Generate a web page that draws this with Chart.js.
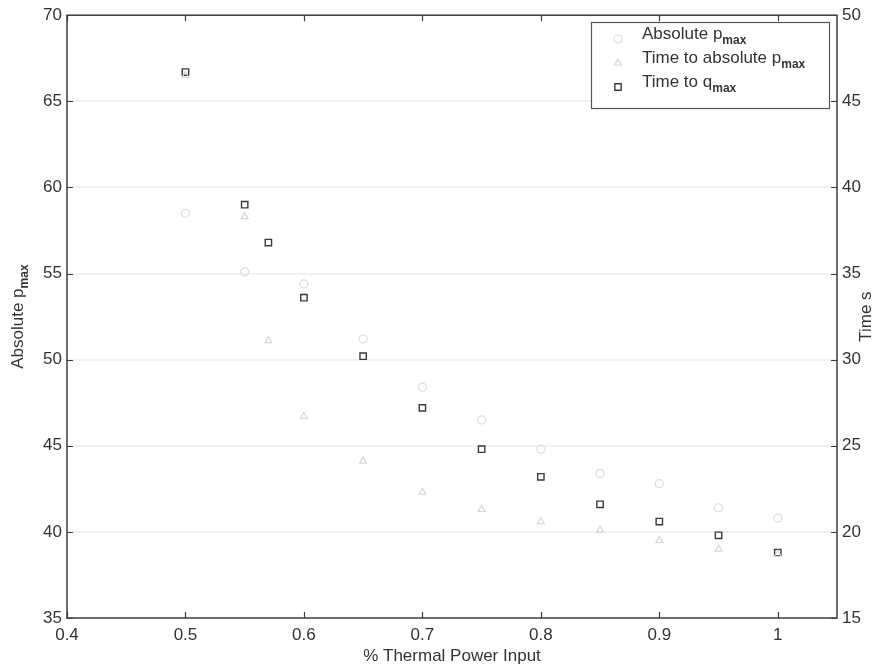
<!DOCTYPE html>
<html>
<head>
<meta charset="utf-8">
<script src="https://cdn.jsdelivr.net/npm/chart.js@4.4.1/dist/chart.umd.min.js"></script>
<style>
html,body{margin:0;padding:0;background:#fff;}
#wrap{width:881px;height:672px;position:relative;}
</style>
</head>
<body>
<div id="wrap"><canvas id="powerChart" width="881" height="672"></canvas></div>
<script>

// thermal power fractions and measured values
const powerInput = [0.5, 0.55, 0.6, 0.65, 0.7, 0.75, 0.8, 0.85, 0.9, 0.95, 1.0];
const absPmax = [58.5, 55.1, 54.4, 51.2, 48.4, 46.5, 44.8, 43.4, 42.8, 41.4, 40.8];

const timeInput = [0.5, 0.55, 0.57, 0.6, 0.65, 0.7, 0.75, 0.8, 0.85, 0.9, 0.95, 1.0];
const timeToPmax = [46.5, 38.3, 31.1, 26.7, 24.1, 22.3, 21.3, 20.6, 20.1, 19.5, 19.0, 18.7];
const timeToQmax = [46.7, 39.0, 36.8, 33.6, 30.2, 27.2, 24.8, 23.2, 21.6, 20.6, 19.8, 18.8];

const xTicks = [0.4, 0.5, 0.6, 0.7, 0.8, 0.9, 1.0];
const leftTicks = [35, 40, 45, 50, 55, 60, 65, 70];
const rightTicks = [15, 20, 25, 30, 35, 40, 45, 50];

const FONT = "'Liberation Sans', Arial, sans-serif";
const INK = "#333";

function toPoints(xs, ys){
return xs.map((x, i) => ({x: x, y: ys[i]}));
}

// text followed by a lowered, smaller subscript
function subText(ctx, x, y, main, sub, size, align){
ctx.font = size + "px " + FONT;
const w1 = ctx.measureText(main).width;
ctx.font = "bold " + Math.round(size * 0.68) + "px " + FONT;
const w2 = ctx.measureText(sub).width;
let start = x;
if(align === "center") start = x - (w1 + w2) / 2;
ctx.textAlign = "left";
ctx.textBaseline = "middle";
ctx.font = size + "px " + FONT;
ctx.fillText(main, start, y);
ctx.font = "bold " + Math.round(size * 0.68) + "px " + FONT;
ctx.fillText(sub, start + w1, y + size * 0.38);
}

const framePlugin = {
id: "frame",
afterDraw(chart){
const ctx = chart.ctx;
const a = chart.chartArea;
const sx = chart.scales.x;
const sl = chart.scales.yLeft;
const sr = chart.scales.yRight;

ctx.save();
ctx.strokeStyle = "#3c3c3c";
ctx.lineWidth = 1.5;
ctx.strokeRect(a.left, a.top, a.right - a.left, a.bottom - a.top);

// inward tick marks on all four sides
ctx.lineWidth = 1.2;
ctx.beginPath();
xTicks.forEach(v => {
const px = Math.round(sx.getPixelForValue(v)) + 0.5;
ctx.moveTo(px, a.bottom); ctx.lineTo(px, a.bottom - 6);
ctx.moveTo(px, a.top); ctx.lineTo(px, a.top + 6);
});
leftTicks.forEach(v => {
const py = Math.round(sl.getPixelForValue(v)) + 0.5;
ctx.moveTo(a.left, py); ctx.lineTo(a.left + 6, py);
});
rightTicks.forEach(v => {
const py = Math.round(sr.getPixelForValue(v)) + 0.5;
ctx.moveTo(a.right, py); ctx.lineTo(a.right - 6, py);
});
ctx.stroke();

// axis titles
ctx.fillStyle = INK;
ctx.font = "17px " + FONT;
ctx.textAlign = "center";
ctx.textBaseline = "middle";
ctx.fillText("% Thermal Power Input", (a.left + a.right) / 2, 656);

ctx.save();
ctx.translate(18, (a.top + a.bottom) / 2);
ctx.rotate(-Math.PI / 2);
subText(ctx, 0, 0, "Absolute p", "max", 17, "center");
ctx.restore();

ctx.save();
ctx.translate(866, (a.top + a.bottom) / 2);
ctx.rotate(-Math.PI / 2);
ctx.font = "17px " + FONT;
ctx.textAlign = "center";
ctx.textBaseline = "middle";
ctx.fillText("Time s", 0, 0);
ctx.restore();

// legend box
const lx = 591, ly = 22, lw = 238, lh = 86;
ctx.fillStyle = "#fff";
ctx.fillRect(lx, ly, lw, lh);
ctx.strokeStyle = "#555";
ctx.lineWidth = 1.2;
ctx.strokeRect(lx + 0.5, ly + 0.5, lw, lh);

const rows = [
{main: "Absolute p", sub: "max", ds: 0},
{main: "Time to absolute p", sub: "max", ds: 1},
{main: "Time to q", sub: "max", ds: 2}
];
rows.forEach((r, i) => {
const y = 34 + i * 24;
const d = chart.data.datasets[r.ds];
ctx.strokeStyle = d.borderColor;
ctx.fillStyle = "rgba(0,0,0,0)";
ctx.lineWidth = d.borderWidth;
Chart.helpers.drawPoint(ctx, {pointStyle: d.pointStyle, radius: d.pointRadius, borderWidth: d.borderWidth}, 618, y + 5);
ctx.fillStyle = INK;
subText(ctx, 642, y, r.main, r.sub, 17, "left");
});

ctx.restore();
}
};

new Chart(document.getElementById("powerChart"), {
type: "scatter",
data: {
datasets: [
{
label: "Absolute pmax",
data: toPoints(powerInput, absPmax),
yAxisID: "yLeft",
pointStyle: "circle",
pointRadius: 4,
borderWidth: 1.2,
borderColor: "#dcdcdc",
backgroundColor: "rgba(0,0,0,0)"
},
{
label: "Time to absolute pmax",
data: toPoints(timeInput, timeToPmax),
yAxisID: "yRight",
pointStyle: "triangle",
pointRadius: 4,
borderWidth: 1.2,
borderColor: "#d6d6d6",
backgroundColor: "rgba(0,0,0,0)"
},
{
label: "Time to qmax",
data: toPoints(timeInput, timeToQmax),
yAxisID: "yRight",
pointStyle: "rect",
pointRadius: 4.5,
borderWidth: 1.4,
borderColor: "#3a3a3a",
backgroundColor: "rgba(0,0,0,0)"
}
]
},
options: {
responsive: false,
animation: false,
layout: {padding: {top: 13, left: 0, right: 0, bottom: 0}},
plugins: {
legend: {display: false},
tooltip: {enabled: false}
},
scales: {
x: {
type: "linear",
min: 0.4,
max: 1.05,
afterBuildTicks: s => { s.ticks = xTicks.map(v => ({value: v})); },
afterFit: s => { s.height = 54; },
grid: {display: false, drawTicks: false},
border: {display: false},
ticks: {
padding: 7,
color: INK,
font: {family: FONT, size: 17},
callback: v => String(Math.round(v * 10) / 10)
}
},
yLeft: {
type: "linear",
position: "left",
min: 35,
max: 70,
afterBuildTicks: s => { s.ticks = leftTicks.map(v => ({value: v})); },
afterFit: s => { s.width = 67; },
grid: {
drawTicks: false,
color: ctx => (ctx.tick && ctx.tick.value > 35 && ctx.tick.value < 70) ? "rgba(0,0,0,0.055)" : "rgba(0,0,0,0)",
lineWidth: 2
},
border: {display: false},
ticks: {padding: 5, color: INK, font: {family: FONT, size: 17}}
},
yRight: {
type: "linear",
position: "right",
min: 15,
max: 50,
afterBuildTicks: s => { s.ticks = rightTicks.map(v => ({value: v})); },
afterFit: s => { s.width = 44; },
grid: {display: false, drawTicks: false},
border: {display: false},
ticks: {padding: 5, color: INK, font: {family: FONT, size: 17}}
}
}
},
plugins: [framePlugin]
});
</script>
</body>
</html>
